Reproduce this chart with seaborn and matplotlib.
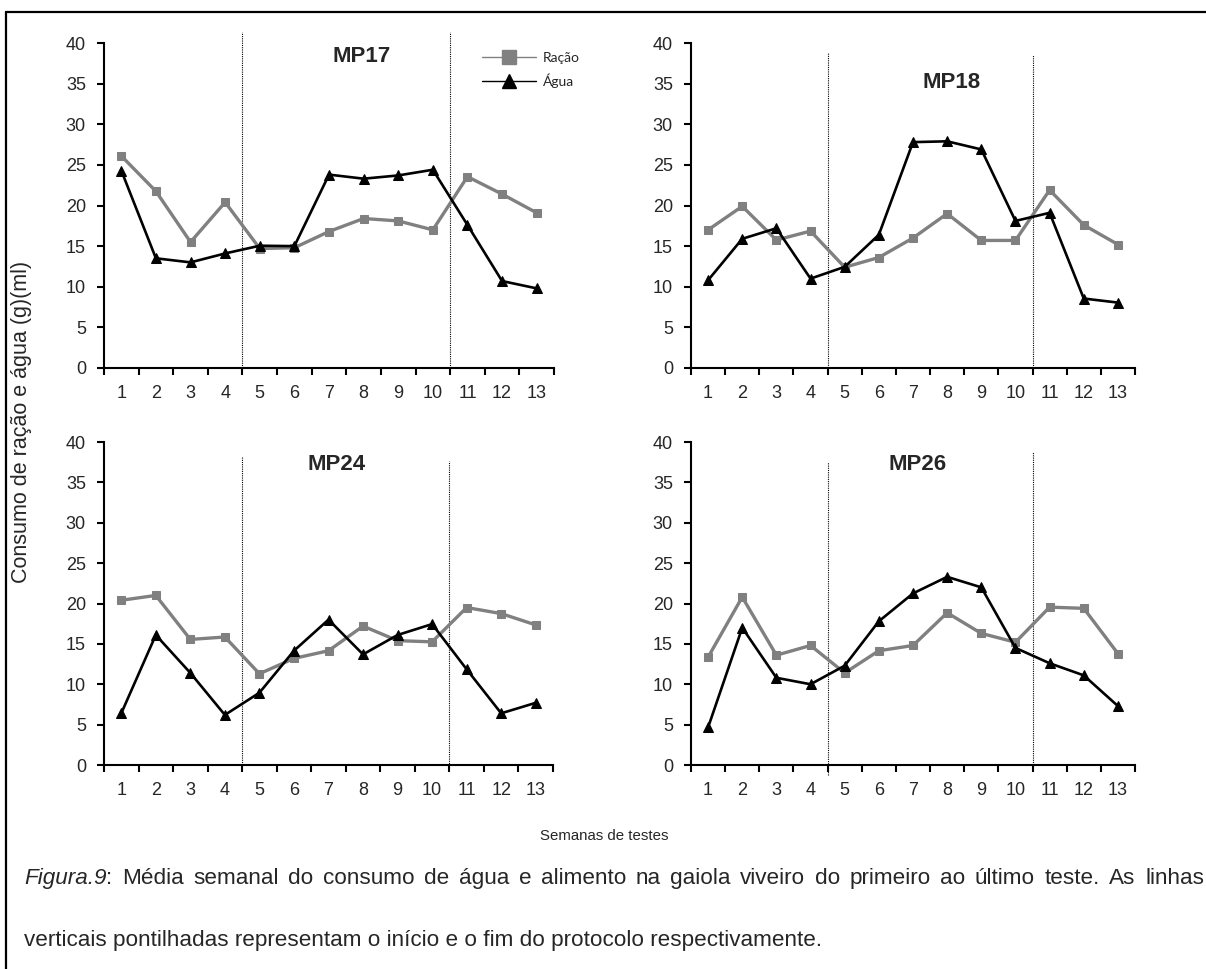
import matplotlib
matplotlib.use("Agg")
import matplotlib.pyplot as plt
import seaborn as sns
import pandas as pd
from matplotlib.lines import Line2D

# ---- data -------------------------------------------------------------
weeks = list(range(1, 14))
week_labels = [str(w) for w in weeks]
y_ticks = [0, 5, 10, 15, 20, 25, 30, 35, 40]
animals = ["MP17", "MP18", "MP24", "MP26"]
series_names = ["Ração", "Água"]

racao_mp17 = [26.1, 21.75, 15.5, 20.4, 14.7, 14.8, 16.8, 18.4, 18.1, 17.0, 23.55, 21.4, 19.1]
agua_mp17 = [24.3, 13.5, 13.0, 14.1, 15.05, 15.0, 23.8, 23.3, 23.7, 24.4, 17.6, 10.7, 9.8]

racao_mp18 = [17.0, 19.9, 15.75, 16.85, 12.4, 13.6, 16.0, 19.0, 15.7, 15.7, 21.9, 17.6, 15.2]
agua_mp18 = [10.8, 15.9, 17.2, 11.0, 12.45, 16.4, 27.8, 27.9, 26.9, 18.1, 19.1, 8.55, 8.05]

racao_mp24 = [20.4, 21.0, 15.55, 15.85, 11.3, 13.2, 14.15, 17.2, 15.4, 15.25, 19.5, 18.75, 17.35]
agua_mp24 = [6.4, 16.1, 11.4, 6.2, 8.95, 14.15, 18.0, 13.7, 16.1, 17.45, 11.85, 6.4, 7.7]

racao_mp26 = [13.35, 20.8, 13.6, 14.8, 11.4, 14.15, 14.8, 18.85, 16.3, 15.2, 19.55, 19.4, 13.8]
agua_mp26 = [4.65, 17.0, 10.8, 10.0, 12.3, 17.8, 21.25, 23.3, 22.0, 14.5, 12.6, 11.1, 7.3]

# protocol start / end (between weeks 4|5 and 10|11)
protocol_bounds = [4.5, 10.5]

racao = {"MP17": racao_mp17, "MP18": racao_mp18, "MP24": racao_mp24, "MP26": racao_mp26}
agua = {"MP17": agua_mp17, "MP18": agua_mp18, "MP24": agua_mp24, "MP26": agua_mp26}

# ---- layout / style ---------------------------------------------------
sns.set_theme(style="white")
plt.rcParams["font.family"] = ["Liberation Sans", "DejaVu Sans"]

W, H = 1206, 969
fig = plt.figure(figsize=(W / 100, H / 100), dpi=100)
fig.patch.set_facecolor("white")

# axes boxes in pixels: (left, top, right, bottom)
boxes = {
    "MP17": (104, 43, 554, 368),
    "MP18": (691, 43, 1135, 368),
    "MP24": (104, 442, 553, 765),
    "MP26": (691, 442, 1135, 765),
}
# title centres in pixels
title_pos = {"MP17": (362, 57), "MP18": (952, 82), "MP24": (337, 465), "MP26": (918, 465)}
# vertical extent (data units) of the dotted protocol lines
guide_extent = {
    "MP17": [(-0.3, 41.4), (-0.3, 41.4)],
    "MP18": [(-0.5, 38.9), (-0.3, 38.5)],
    "MP24": [(-0.3, 38.2), (-0.4, 37.7)],
    "MP26": [(-1.2, 37.5), (-0.3, 38.7)],
}

GRAY = "#808080"
TICK_FS = 13

for name in animals:
    l, t, r, b = boxes[name]
    ax = fig.add_axes([l / W, 1 - b / H, (r - l) / W, (b - t) / H])
    df = pd.DataFrame({
        "semana": weeks * 2,
        "valor": racao[name] + agua[name],
        "serie": [series_names[0]] * 13 + [series_names[1]] * 13,
    })
    sns.lineplot(data=df[df.serie == "Ração"], x="semana", y="valor", ax=ax,
                 color=GRAY, lw=2.4, marker="s", markersize=5.5,
                 markeredgecolor=GRAY, markerfacecolor=GRAY, legend=False)
    sns.lineplot(data=df[df.serie == "Água"], x="semana", y="valor", ax=ax,
                 color="black", lw=1.9, marker="^", markersize=6.5,
                 markeredgecolor="black", markerfacecolor="black", legend=False)

    for xb, (lo, hi) in zip(protocol_bounds, guide_extent[name]):
        ax.plot([xb, xb], [lo, hi], color="black", lw=0.8, ls=(0, (1, 1)),
                clip_on=False, zorder=1)

    ax.set_xlim(0.5, 13.5)
    ax.set_ylim(0, 40)
    ax.set_yticks(y_ticks)
    ax.set_yticklabels([str(v) for v in y_ticks], fontsize=TICK_FS)
    ax.set_xticks([w - 0.5 for w in weeks] + [13.5])
    ax.set_xticklabels([])
    ax.set_xticks(weeks, minor=True)
    ax.set_xticklabels(week_labels, minor=True, fontsize=TICK_FS)
    ax.tick_params(axis="x", which="major", direction="out", length=5, width=1.5,
                   color="black", bottom=True)
    ax.tick_params(axis="x", which="minor", length=0, pad=12)
    ax.tick_params(axis="y", direction="out", length=5, width=1.5, color="black",
                   left=True, pad=8)
    ax.set_xlabel("")
    ax.set_ylabel("")
    for s in ["top", "right"]:
        ax.spines[s].set_visible(False)
    for s in ["left", "bottom"]:
        ax.spines[s].set_color("black")
        ax.spines[s].set_linewidth(1.5)
    ax.set_facecolor("white")

    tx, ty = title_pos[name]
    fig.text(tx / W, 1 - ty / H, name, ha="center", va="center",
             fontsize=16, fontweight="bold")

# legend (top-left panel)
handles = [
    Line2D([], [], color=GRAY, lw=1, marker="s", markersize=10,
           markerfacecolor=GRAY, markeredgecolor=GRAY),
    Line2D([], [], color="black", lw=1, marker="^", markersize=10,
           markerfacecolor="black", markeredgecolor="black"),
]
fig.legend(handles, series_names, loc="upper left",
           bbox_to_anchor=(482 / W, 1 - 52 / H), frameon=False,
           prop={"family": ["Lato", "DejaVu Sans"], "size": 10},
           handlelength=3.9, handletextpad=0.5, labelspacing=0.65,
           borderaxespad=0, borderpad=0)

# shared axis labels
fig.text(22 / W, 1 - 422 / H, "Consumo de ração e água (g)(ml)", rotation=90,
         ha="center", va="center", fontsize=15.5)
fig.text(604 / W, 1 - 836 / H, "Semanas de testes", ha="center", va="center",
         fontsize=10.8)

# caption (first line justified)
x0, x1 = 24, 1204
base1, base2 = 884, 946
line1 = "Média semanal do consumo de água e alimento na gaiola viveiro do primeiro ao último teste. As linhas"
line2 = "verticais pontilhadas representam o início e o fim do protocolo respectivamente."
line2_width = 798  # right end of the second line

fig.canvas.draw()
renderer = fig.canvas.get_renderer()

def px_width(txt):
    return txt.get_window_extent(renderer).width

# size the caption font so the second line spans its width
probe = fig.text(0, 0, line2, fontsize=10)
cap_fs = 10 * line2_width / px_width(probe)
probe.remove()

kw = dict(fontsize=cap_fs, va="baseline")
lead_it = fig.text(0, 1 - base1 / H, "Figura.9", style="italic", **kw)
lead_colon = fig.text(0, 1 - base1 / H, ":", **kw)
word_objs = [fig.text(0, 1 - base1 / H, w, **kw) for w in line1.split()]
w_it = px_width(lead_it)
w_colon = px_width(lead_colon)
widths = [w_it + w_colon] + [px_width(o) for o in word_objs]
gap = (x1 - x0 - sum(widths)) / (len(widths) - 1)
x = x0
lead_it.set_x(x / W)
lead_colon.set_x((x + w_it) / W)
x += widths[0] + gap
for o, wd in zip(word_objs, widths[1:]):
    o.set_x(x / W)
    x += wd + gap

fig.text(x0 / W, 1 - base2 / H, line2, **kw)

# frame lines (top and left)
fig.add_artist(Line2D([6 / W, 1.0], [1 - 12 / H, 1 - 12 / H], color="black", lw=1.6,
                      transform=fig.transFigure))
fig.add_artist(Line2D([6 / W, 6 / W], [0, 1 - 12 / H], color="black", lw=1.6,
                      transform=fig.transFigure))

fig.savefig("out.png", dpi=100, facecolor="white")
